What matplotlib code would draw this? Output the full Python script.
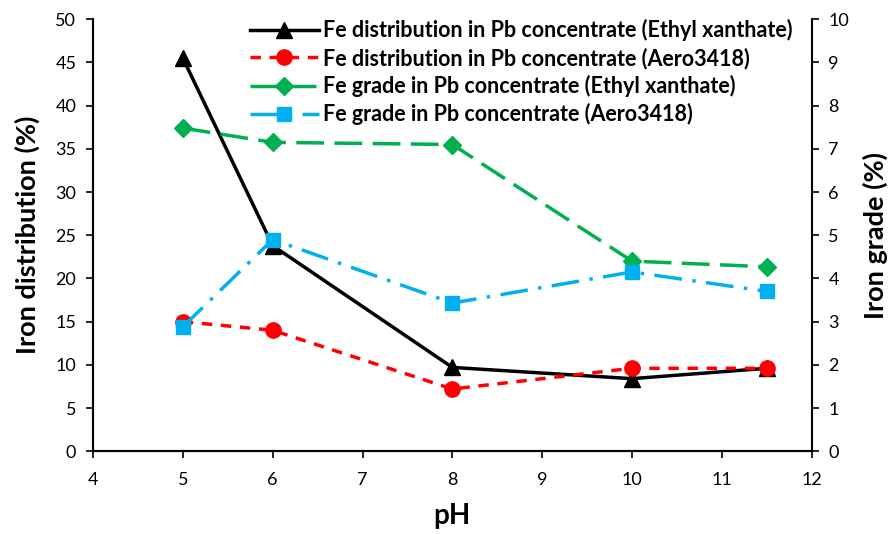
import matplotlib
matplotlib.use("Agg")
import matplotlib.pyplot as plt

plt.rcParams['font.family'] = ['Lato', 'DejaVu Sans']

ph = [5, 6, 8, 10, 11.5]
dist_ethyl = [45.5, 23.8, 9.7, 8.4, 9.6]
dist_aero = [15.0, 14.0, 7.2, 9.6, 9.6]
grade_ethyl = [7.48, 7.15, 7.1, 4.4, 4.27]
grade_aero = [2.88, 4.9, 3.43, 4.15, 3.7]

labels = ["Fe distribution in Pb concentrate (Ethyl xanthate)",
          "Fe distribution in Pb concentrate (Aero3418)",
          "Fe grade in Pb concentrate (Ethyl xanthate)",
          "Fe grade in Pb concentrate (Aero3418)"]

fig = plt.figure(figsize=(8.94, 5.34), dpi=100)
ax = fig.add_axes([0.104, 0.155, 0.804, 0.809])
ax2 = ax.twinx()

l1, = ax.plot(ph, dist_ethyl, color='black', lw=2.5, marker='^', ms=12, label=labels[0])
l2, = ax.plot(ph, dist_aero, color='#FF0000', lw=2.5, ls=(0, (3, 2.5)), marker='o', ms=11, label=labels[1])
l3, = ax2.plot(ph, grade_ethyl, color='#00B050', lw=2.5, ls=(0, (8, 3)), marker='D', ms=9, label=labels[2])
l4, = ax2.plot(ph, grade_aero, color='#00B0F0', lw=2.5, ls=(0, (8, 3, 1, 3)), marker='s', ms=10.5, label=labels[3])

ax.set_xlim(4, 12)
ax.set_ylim(0, 50)
ax2.set_ylim(0, 10)
ax.set_xticks(range(4, 13))
ax.set_yticks(range(0, 51, 5))
ax2.set_yticks(range(0, 11))

for a in (ax, ax2):
    a.spines['top'].set_visible(False)
    for s in a.spines.values():
        s.set_linewidth(1.5)
    a.tick_params(labelsize=13, direction='out', length=5, width=1.2, pad=7)
ax.spines['right'].set_visible(False)
ax.tick_params(axis='x', pad=10)

ax.set_xlabel('pH', fontsize=20, fontweight='bold', labelpad=11)
ax.set_ylabel('Iron distribution (%)', fontsize=19.5, fontweight='bold', labelpad=11)
ax2.set_ylabel('Iron grade (%)', fontsize=19.5, fontweight='bold', labelpad=10)

leg = ax.legend(handles=[l1, l2, l3, l4], loc='upper left', bbox_to_anchor=(0.218, 1.0),
                frameon=False, prop={'weight': 'bold', 'size': 15.5}, handlelength=3.2,
                handletextpad=0.2, labelspacing=0.28, borderaxespad=0, borderpad=0)
leg.set_zorder(5)

fig.savefig('out.png', dpi=100)
